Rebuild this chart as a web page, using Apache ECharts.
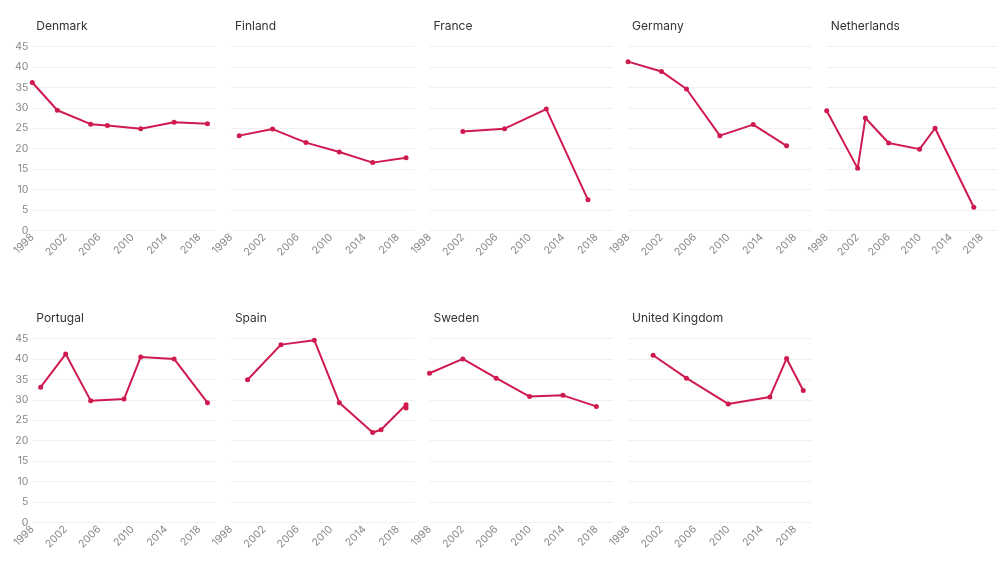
<!DOCTYPE html>
<html>
<head>
<meta charset="utf-8">
<script src="https://cdn.jsdelivr.net/npm/echarts@6/dist/echarts.min.js"></script>
<style>
  html, body { margin: 0; padding: 0; background: #fff; }
  #chart { width: 997px; height: 561px; }
</style>
</head>
<body>
<div id="chart"></div>
<script>
(function(){
    // panel names, in reading order
    var countries = ['Denmark', 'Finland', 'France', 'Germany', 'Netherlands',
                     'Portugal', 'Spain', 'Sweden', 'United Kingdom'];

    var denmarkYears = [1998, 2001, 2005, 2007, 2011, 2015, 2019];
    var denmarkValues = [36.2, 29.4, 26.0, 25.7, 24.9, 26.5, 26.1];

    var finlandYears = [1999, 2003, 2007, 2011, 2015, 2019];
    var finlandValues = [23.2, 24.8, 21.5, 19.2, 16.6, 17.8];

    var franceYears = [2002, 2007, 2012, 2017];
    var franceValues = [24.2, 24.9, 29.7, 7.5];

    var germanyYears = [1998, 2002, 2005, 2009, 2013, 2017];
    var germanyValues = [41.3, 38.9, 34.6, 23.2, 25.9, 20.7];

    var netherlandsYears = [1998, 2002, 2003, 2006, 2010, 2012, 2017];
    var netherlandsValues = [29.3, 15.2, 27.5, 21.4, 19.9, 25.0, 5.7];

    var portugalYears = [1999, 2002, 2005, 2009, 2011, 2015, 2019];
    var portugalValues = [33.1, 41.2, 29.8, 30.2, 40.5, 40.0, 29.3];

    var spainYears = [2000, 2004, 2008, 2011, 2015, 2016, 2019, 2019];
    var spainValues = [34.9, 43.5, 44.6, 29.3, 22.0, 22.7, 28.8, 28.0];

    var swedenYears = [1998, 2002, 2006, 2010, 2014, 2018];
    var swedenValues = [36.5, 40.0, 35.3, 30.8, 31.1, 28.4];

    var ukYears = [2001, 2005, 2010, 2015, 2017, 2019];
    var ukValues = [40.9, 35.3, 29.0, 30.7, 40.1, 32.3];

    var allYears = [denmarkYears, finlandYears, franceYears, germanyYears, netherlandsYears,
                    portugalYears, spainYears, swedenYears, ukYears];
    var allValues = [denmarkValues, finlandValues, franceValues, germanyValues, netherlandsValues,
                     portugalValues, spainValues, swedenValues, ukValues];

    var yMin = 0, yMax = 45, yStep = 5;
    var xMin = 1998, xMax = 2020, xStep = 4;

    var lineColor = '#cf1a4f';
    var chart = echarts.init(document.getElementById('chart'));

    var grids = [], xAxes = [], yAxes = [], titles = [], series = [];
    var colStep = 198.6, plotW = 183.5;
    var rowTop = [46.5, 338.5], plotH = 184;

    countries.forEach(function(name, i){
        var row = i < 5 ? 0 : 1;
        var col = i < 5 ? i : i - 5;
        var left = 32.3 + col * colStep;

        grids.push({ left: left, top: rowTop[row], width: plotW, height: plotH });

        titles.push({
            text: name,
            left: left - 1,
            top: rowTop[row] - 31,
            textStyle: { fontFamily: 'Inter', fontSize: 12, fontWeight: 'normal', color: '#333' }
        });

        xAxes.push({
            type: 'value', gridIndex: i,
            min: xMin, max: xMax, interval: xStep,
            axisLine: { show: false },
            axisTick: { show: false },
            splitLine: { show: false },
            axisLabel: {
                rotate: 45, margin: 5, showMaxLabel: false,
                formatter: function(v){ return String(v); },
                fontFamily: 'Inter', fontSize: 10.5, color: '#888'
            }
        });

        yAxes.push({
            type: 'value', gridIndex: i,
            min: yMin, max: yMax, interval: yStep,
            axisLine: { show: false },
            axisTick: { show: false },
            splitLine: { show: true, lineStyle: { color: '#f0f0f0', width: 1 } },
            axisLabel: {
                show: col === 0, margin: 4,
                fontFamily: 'Inter', fontSize: 10.5, color: '#888'
            }
        });

        var pts = allYears[i].map(function(y, k){ return [y, allValues[i][k]]; });
        series.push({
            name: name,
            type: 'line',
            xAxisIndex: i, yAxisIndex: i,
            data: pts,
            symbol: 'circle', symbolSize: 5,
            lineStyle: { width: 2, color: lineColor },
            itemStyle: { color: lineColor },
            animation: false
        });
    });

    var option = {
        backgroundColor: '#fff',
        animation: false,
        title: titles,
        grid: grids,
        xAxis: xAxes,
        yAxis: yAxes,
        series: series
    };

    chart.setOption(option);
})();
</script>
</body>
</html>
